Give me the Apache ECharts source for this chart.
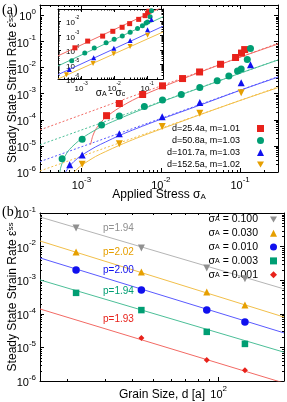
<!DOCTYPE html>
<html><head><meta charset="utf-8">
<script src="https://cdn.jsdelivr.net/npm/echarts@6/dist/echarts.min.js"></script>
<style>html,body{margin:0;padding:0;background:#fff}#c{width:287px;height:402px}</style>
</head><body><div id="c"></div>
<script>
// ---------- Panel (a): steady-state strain rate vs applied stress ----------
const sigmaA25  = [0.00207,0.0030,0.0059,0.0105,0.0188,0.0308,0.0566,0.0875,0.104,0.114];
const rateA25   = [1.44e-4,4.2e-4,9.3e-4,2.0e-3,3.8e-3,6.8e-3,0.0134,0.0243,0.036,0.049];
const sigmaA51  = [5.7e-4,1.02e-3,1.79e-3,3.0e-3,6.2e-3,0.0105,0.0181,0.031,0.0514,0.072,0.0927,0.103,0.123,0.135];
const rateA51   = [3.2e-6,1.8e-5,6.3e-5,1.40e-4,3.2e-4,5.7e-4,9.3e-4,1.74e-3,3.1e-3,4.8e-3,7.4e-3,8.9e-3,0.0205,0.0536];
const sigmaA102 = [7.1e-4,1.02e-3,3.0e-3,0.0104,0.031,0.103,0.135];
const rateA102  = [1.9e-6,4.5e-6,2.9e-5,1.32e-4,4.6e-4,2.6e-3,0.0129];
const sigmaA153 = [1.02e-3,3.0e-3,0.0104,0.031,0.103];
const rateA153  = [2.0e-6,1.2e-5,5.5e-5,1.77e-4,1.08e-3];
const legendA   = ['d=25.4a, m=1.01','d=50.8a, m=1.03','d=101.7a, m=1.03','d=152.5a, m=1.02'];

// power-law guide lines (dotted) : ends
const dotSigma   = [3e-4, 0.3];
const dotRate25  = [4.1e-5, 0.085];
const dotRate51  = [1.1e-5, 0.020];
const dotRate102 = [2.5e-6, 4.5e-3];
const dotRate153 = [1.1e-6, 1.8e-3];
// threshold fits (solid curves)
const curveSig25   = [1.3e-3,1.4e-3,1.6e-3,2.0e-3,3e-3,5e-3,0.01,0.03,0.1,0.3];
const curveRate25  = [1.1e-5,2.6e-5,5.6e-5,1.2e-4,2.9e-4,6.8e-4,1.7e-3,6.4e-3,0.025,0.080];
const curveSig51   = [5.33e-4,5.5e-4,6e-4,7e-4,1e-3,1.5e-3,2e-3,3e-3,5e-3,0.01,0.03,0.1,0.3];
const curveRate51  = [1e-6,1.55e-6,3.3e-6,7.1e-6,1.9e-5,4.1e-5,6.4e-5,1.1e-4,2.1e-4,4.8e-4,1.6e-3,6.1e-3,0.0195];
const curveSig102  = [6.31e-4,7e-4,8e-4,1e-3,1.5e-3,2e-3,3e-3,5e-3,0.01,0.03,0.1,0.3];
const curveRate102 = [1e-6,1.6e-6,2.5e-6,4.3e-6,9.1e-6,1.4e-5,2.5e-5,4.7e-5,1.05e-4,3.5e-4,1.35e-3,4.3e-3];
const curveSig153  = [8.05e-4,9e-4,1e-3,1.5e-3,2e-3,3e-3,5e-3,0.01,0.03,0.1,0.3];
const curveRate153 = [1e-6,1.37e-6,1.8e-6,3.9e-6,6.0e-6,1.05e-5,2.0e-5,4.4e-5,1.5e-4,5.5e-4,1.7e-3];

// inset: rate vs (sigma_A - sigma_c)
const insetX25  = [6.5e-4,1.58e-3,4.48e-3,9.1e-3,0.0174,0.0294,0.0552,0.0861,0.1026,0.1126];
const insetY25  = [1.44e-4,4.2e-4,9.3e-4,2.0e-3,3.8e-3,6.8e-3,0.0134,0.0243,0.036,0.049];
const insetX51  = [5.2e-4,1.29e-3,2.5e-3,5.7e-3,0.0100,0.0176,0.0305,0.0509,0.0715,0.0922,0.1025,0.1225,0.1345];
const insetY51  = [1.8e-5,6.3e-5,1.40e-4,3.2e-4,5.7e-4,9.3e-4,1.74e-3,3.1e-3,4.8e-3,7.4e-3,8.9e-3,0.0205,0.0536];
const insetX102 = [4.4e-4,2.4e-3,9.8e-3,0.0304,0.1024,0.1344];
const insetY102 = [4.5e-6,2.9e-5,1.32e-4,4.6e-4,2.6e-3,0.0129];
const insetX153 = [3.6e-4,2.3e-3,9.7e-3,0.0303,0.1023];
const insetY153 = [2.0e-6,1.2e-5,5.5e-5,1.77e-4,1.08e-3];
const insetLineX   = [2e-4, 0.3];
const insetLine25  = [4.0e-5, 0.10];
const insetLine51  = [8.0e-6, 0.0204];
const insetLine102 = [2.0e-6, 4.5e-3];
const insetLine153 = [1.0e-6, 1.8e-3];

// ---------- Panel (b): strain rate vs grain size ----------
const grainD   = [22.0, 44.0, 88.1, 132.1];
const rateS100 = [0.0358, 0.0091, 0.0023, 0.0011];
const rateS030 = [0.0069, 0.00175, 0.000446, 0.000182];
const rateS010 = [0.0020, 0.00051, 0.000129, 5.7e-5];
const rateS003 = [0.00042, 0.000129, 2.9e-5, 1.27e-5];
const rateS001 = [null, 1.9e-5, 4.2e-6, 2.1e-6];
const legendB  = ['σA = 0.100','σA = 0.030','σA = 0.010','σA = 0.003','σA = 0.001'];
const fitD     = [15, 200];
const fitS100  = [0.076, 5.5e-4];
const fitS030  = [0.0147, 8.0e-5];
const fitS010  = [0.0046, 2.7e-5];
const fitS003  = [0.00102, 7.2e-6];
const fitS001  = [1.39e-4, 8.7e-7];
const pLabels  = ['p=1.94','p=2.02','p=2.00','p=1.94','p=1.93'];

// ---------- helpers ----------
const FF = "'Liberation Sans', Arial, sans-serif";
const zip = (xs, ys) => xs.map((x, i) => [x, ys[i]]).filter(p => p[1] != null);
function powFmt(v) {
  const l = Math.log10(v), e = Math.round(l);
  if (Math.abs(l - e) > 1e-6) return '';
  return '{b|10}{s|' + e + '}';
}
const richLab = (fs) => ({
  b: {fontSize: fs, fontFamily: FF, color: '#000', lineHeight: fs + 4, verticalAlign: 'bottom'},
  s: {fontSize: fs - 3, fontFamily: FF, color: '#000', lineHeight: fs - 3, verticalAlign: 'top'}
});
const richName = {
  sub: {fontSize: 8, fontFamily: FF, color: '#000', verticalAlign: 'bottom', lineHeight: 8},
  sup: {fontSize: 8, fontFamily: FF, color: '#000', verticalAlign: 'top', lineHeight: 8}
};
function axis(gridIndex, pos, min, max, showLabel, extra) {
  return Object.assign({
    gridIndex, type: 'log', min, max, position: pos, nameMoveOverlap: false,
    axisLine: {show: true, lineStyle: {color: '#000', width: 1}},
    axisTick: {show: true, inside: true, length: 4, lineStyle: {color: '#000'}},
    axisLabel: {show: showLabel, formatter: powFmt, rich: richLab(11), margin: 4},
    splitLine: {show: false}, minorTick: {show: false}
  }, extra || {});
}
// gnuplot-style log minor ticks (2..9 x 10^k) drawn on all four sides
function minorVals(min, max) {
  const out = [];
  for (let e = Math.floor(Math.log10(min)); e <= Math.ceil(Math.log10(max)); e++)
    for (let m = 2; m <= 9; m++) { const v = m * Math.pow(10, e); if (v > min * 1.001 && v < max * 0.999) out.push(v); }
  return out;
}
function minorSeries(xi, yi, xr, yr, len) {
  const xs = minorVals(xr[0], xr[1]).map(v => [v, yr[0] * 1.01, 0]);
  const ys = minorVals(yr[0], yr[1]).map(v => [xr[0] * 1.01, v, 1]);
  return {type: 'custom', xAxisIndex: xi, yAxisIndex: yi, silent: true, z: 1, clip: false,
    data: xs.concat(ys),
    renderItem: (params, api) => {
      const cs = params.coordSys, p = api.coord([api.value(0), api.value(1)]);
      const st = {stroke: '#000', lineWidth: 1};
      if (api.value(2) === 0) {
        const x = Math.round(p[0]) + 0.5;
        return {type: 'group', children: [
          {type: 'line', shape: {x1: x, y1: cs.y + cs.height, x2: x, y2: cs.y + cs.height - len}, style: st},
          {type: 'line', shape: {x1: x, y1: cs.y, x2: x, y2: cs.y + len}, style: st}]};
      }
      const y = Math.round(p[1]) + 0.5;
      return {type: 'group', children: [
        {type: 'line', shape: {x1: cs.x, y1: y, x2: cs.x + len, y2: y}, style: st},
        {type: 'line', shape: {x1: cs.x + cs.width, y1: y, x2: cs.x + cs.width - len, y2: y}, style: st}]};
    }};
}

const C = {red: '#e8221b', green: '#009e73', blue: '#1010ee', orange: '#e69f00', grey: '#909090'};
const L = {red: '#f26a64', green: '#4cbf98', blue: '#5a5aff', orange: '#f2bf4a', grey: '#b5b5b5'};
const downTri = 'path://M0,0L2,0L1,1.73Z';

const series = [];
function line(xi, yi, data, color, dashed, extra) {
  series.push(Object.assign({type: 'line', xAxisIndex: xi, yAxisIndex: yi, data, symbol: 'none',
    lineStyle: {color, width: 1, type: dashed ? [2, 2] : 'solid'}, z: 2, silent: true, clip: true}, extra || {}));
}
function scat(xi, yi, name, data, color, symbol, size) {
  series.push({type: 'scatter', name, xAxisIndex: xi, yAxisIndex: yi, data, symbol, symbolSize: size,
    itemStyle: {color, opacity: 1}, z: 5, clip: true});
}
// panel (a) lines
line(0, 0, zip(dotSigma, dotRate25),  L.red,    true);
line(0, 0, zip(dotSigma, dotRate51),  L.green,  true);
line(0, 0, zip(dotSigma, dotRate102), L.blue,   true);
line(0, 0, zip(dotSigma, dotRate153), L.orange, true);
line(0, 0, zip(curveSig25,  curveRate25),  L.red,    false, {smooth: 0.3});
line(0, 0, zip(curveSig51,  curveRate51),  L.green,  false, {smooth: 0.3});
line(0, 0, zip(curveSig102, curveRate102), L.blue,   false, {smooth: 0.3});
line(0, 0, zip(curveSig153, curveRate153), L.orange, false, {smooth: 0.3});
scat(0, 0, legendA[0], zip(sigmaA25,  rateA25),  C.red,    'rect', 7);
scat(0, 0, legendA[1], zip(sigmaA51,  rateA51),  C.green,  'circle', 7);
scat(0, 0, legendA[2], zip(sigmaA102, rateA102), C.blue,   'triangle', 7);
scat(0, 0, legendA[3], zip(sigmaA153, rateA153), C.orange, downTri, 7);
series.push(minorSeries(0, 0, [3e-4, 0.3], [1e-6, 2.5], 2));
// inset
line(2, 2, zip(insetLineX, insetLine25),  L.red,    false);
line(2, 2, zip(insetLineX, insetLine51),  L.green,  false);
line(2, 2, zip(insetLineX, insetLine102), L.blue,   false);
line(2, 2, zip(insetLineX, insetLine153), L.orange, false);
scat(2, 2, 'in25',  zip(insetX25,  insetY25),  C.red,    'rect', 5);
scat(2, 2, 'in51',  zip(insetX51,  insetY51),  C.green,  'circle', 5);
scat(2, 2, 'in102', zip(insetX102, insetY102), C.blue,   'triangle', 5);
scat(2, 2, 'in153', zip(insetX153, insetY153), C.orange, downTri, 5);
series.push(minorSeries(2, 2, [2e-4, 0.3], [1e-6, 0.07], 1.5));
// panel (b)
const pAt = [[34.5, 0.0358], [34.5, 0.0069], [34.5, 0.0020], [34.5, 4.8e-4], [34.5, 7.1e-5]];
const fitsB = [fitS100, fitS030, fitS010, fitS003, fitS001];
const colsB = ['grey', 'orange', 'blue', 'green', 'red'];
fitsB.forEach((f, i) => line(4, 4, zip(fitD, f), L[colsB[i]], false, {
  markPoint: {symbol: 'circle', symbolSize: 1, itemStyle: {color: 'rgba(0,0,0,0)'},
    label: {show: true, position: 'inside', formatter: pLabels[i], color: C[colsB[i]], fontSize: 10, fontFamily: FF},
    data: [{coord: pAt[i]}]}
}));
scat(4, 4, legendB[0], zip(grainD, rateS100), C.grey,   downTri, 7);
scat(4, 4, legendB[1], zip(grainD, rateS030), C.orange, 'triangle', 7);
scat(4, 4, legendB[2], zip(grainD, rateS010), C.blue,   'circle', 7.5);
scat(4, 4, legendB[3], zip(grainD, rateS003), C.green,  'rect', 6.5);
scat(4, 4, legendB[4], zip(grainD, rateS001), C.red,    'diamond', 6);
series.push(minorSeries(4, 4, [15, 200], [1e-6, 0.1], 2));

const option = {
  animation: false,
  backgroundColor: '#fff',
  textStyle: {fontFamily: FF},
  grid: [
    {left: 40, top: 5, width: 238, height: 167, containLabel: false, outerBoundsMode: 'none'},
    {left: 58, top: 9, width: 105, height: 70, containLabel: false, outerBoundsMode: 'none'},
    {left: 40, top: 213, width: 244, height: 168, containLabel: false, outerBoundsMode: 'none'}
  ],
  xAxis: [
    axis(0, 'bottom', 3e-4, 0.3, true, {name: 'Applied Stress σ{sub|A}', nameLocation: 'middle', nameGap: 17,
      nameTextStyle: {fontSize: 12, color: '#000', fontFamily: FF, rich: richName}}),
    axis(0, 'top', 3e-4, 0.3, false),
    axis(1, 'bottom', 2e-4, 0.3, true, {axisLabel: {formatter: powFmt, rich: richLab(8), margin: 2},
      axisTick: {show: true, inside: true, length: 3, lineStyle: {color: '#000'}},
      name: 'σ{sub|A} - σ{sub|c}', nameLocation: 'middle', nameGap: 9,
      nameTextStyle: {fontSize: 10, color: '#000', fontFamily: FF, rich: {sub: {fontSize: 7, verticalAlign: 'bottom', lineHeight: 7}}}}),
    axis(1, 'top', 2e-4, 0.3, false, {axisTick: {show: true, inside: true, length: 3, lineStyle: {color: '#000'}}}),
    axis(2, 'bottom', 15, 200, true, {name: 'Grain Size, d [a]', nameLocation: 'middle', nameGap: 8,
      nameTextStyle: {fontSize: 12, color: '#000', fontFamily: FF}}),
    axis(2, 'top', 15, 200, false)
  ],
  yAxis: [
    axis(0, 'left', 1e-6, 2.5, true, {name: 'Steady State Strain Rate ε̇{sup|ss}', nameLocation: 'middle', nameGap: 21,
      nameTextStyle: {fontSize: 12, color: '#000', fontFamily: FF, rich: richName}}),
    axis(0, 'right', 1e-6, 2.5, false),
    axis(1, 'left', 1e-6, 0.07, true, {axisLabel: {formatter: powFmt, rich: richLab(8), margin: 8, inside: true},
      axisTick: {show: true, inside: true, length: 3, lineStyle: {color: '#000'}}}),
    axis(1, 'right', 1e-6, 0.07, false, {axisTick: {show: true, inside: true, length: 3, lineStyle: {color: '#000'}}}),
    axis(2, 'left', 1e-6, 0.1, true, {name: 'Steady State Strain Rate ε̇{sup|ss}', nameLocation: 'middle', nameGap: 21,
      nameTextStyle: {fontSize: 12, color: '#000', fontFamily: FF, rich: richName}}),
    axis(2, 'right', 1e-6, 0.1, false)
  ],
  legend: [
    {data: legendA, orient: 'vertical', align: 'right', right: 23, top: 124, itemWidth: 7, itemHeight: 7, itemGap: 3,
      textStyle: {fontSize: 9, color: '#000', fontFamily: FF, lineHeight: 8, padding: [0, 12, 0, 0]}, selectedMode: false, padding: 0},
    {data: legendB, orient: 'vertical', align: 'right', right: 10, top: 214, itemWidth: 7, itemHeight: 7, itemGap: 2.8,
      formatter: n => n.replace('σA', 'σ{sub|A}'), selectedMode: false, padding: 0,
      textStyle: {fontSize: 10.5, color: '#000', fontFamily: FF, lineHeight: 7, padding: [0, 7, 0, 0],
        rich: {sub: {fontSize: 7, verticalAlign: 'bottom', lineHeight: 6, fontFamily: FF}}}}
  ],
  graphic: [
    {type: 'text', left: 2, top: 3, style: {text: '(a)', font: "14px 'Liberation Serif', serif", fill: '#000'}},
    {type: 'text', left: 2, top: 205, style: {text: '(b)', font: "14px 'Liberation Serif', serif", fill: '#000'}}
  ],
  series
};
const chart = echarts.init(document.getElementById('c'), null, {renderer: 'canvas'});
chart.setOption(option);
</script></body></html>
